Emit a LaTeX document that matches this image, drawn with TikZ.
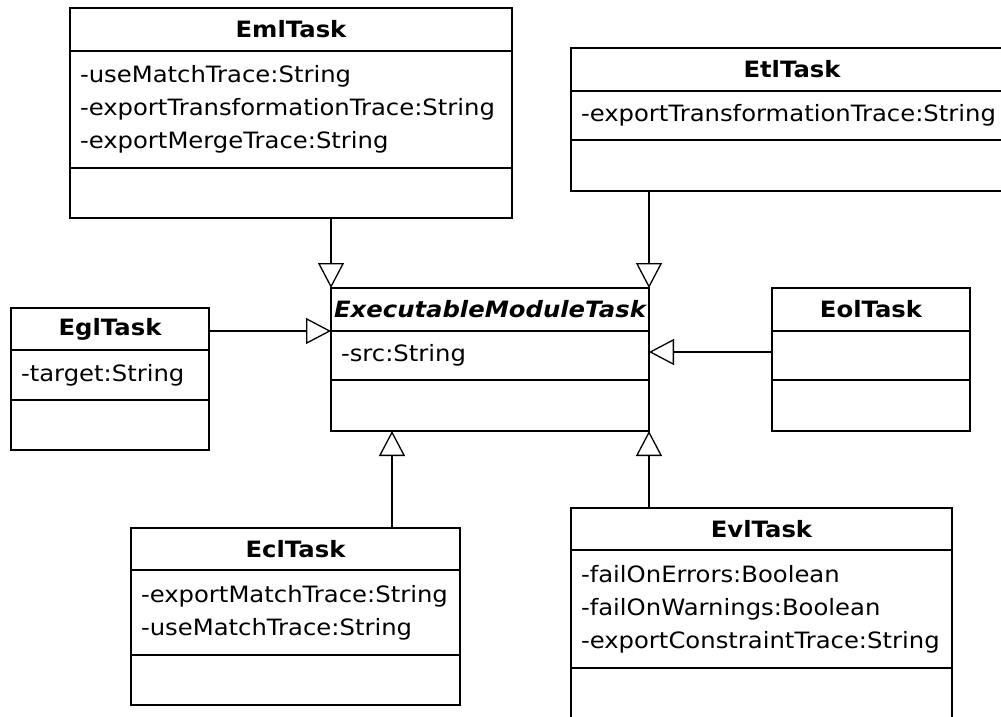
\documentclass[tikz,border=0pt]{standalone}
\usepackage{fontspec}
\setmainfont{DejaVu Sans}[FakeStretch=1.08]
\usetikzlibrary{arrows.meta}
\newcommand{\umlfont}{\fontsize{22.5}{33}\selectfont}

\begin{document}
\begin{tikzpicture}[x=1pt, y=-1pt,
  cls/.style={draw, line width=1.3pt, anchor=north west, inner sep=0pt, outer sep=0pt, font=\umlfont},
  clsname/.style={cls, font=\umlfont\bfseries},
  clsattr/.style={cls, align=left, inner xsep=10pt},
  gen/.style={-{Triangle[open, length=25pt, width=26pt]}, line width=1.3pt}]

\useasboundingbox (0,0) rectangle (1001,717);
\fill[white] (0,0) rectangle (1001,717);
\clip (0,0) rectangle (1001,717);

% EmlTask
\node[clsname, minimum width=442pt, minimum height=43pt] (emlname) at (70,8) {EmlTask};
\node[clsattr, text width=422pt, minimum height=117pt] (emlattr) at (emlname.south west)
  {-useMatchTrace:String\\-exportTransformationTrace:String\\-exportMergeTrace:String};
\node[cls, minimum width=442pt, minimum height=50pt] (emlops) at (emlattr.south west) {};

% EtlTask
\node[clsname, minimum width=442pt, minimum height=43pt] (etlname) at (571,48) {EtlTask};
\node[clsattr, text width=422pt, minimum height=49pt] (etlattr) at (etlname.south west)
  {-exportTransformationTrace:String};
\node[cls, minimum width=442pt, minimum height=51pt] (etlops) at (etlattr.south west) {};

% EglTask
\node[clsname, minimum width=198pt, minimum height=42pt] (eglname) at (11,308) {EglTask};
\node[clsattr, text width=178pt, minimum height=50pt] (eglattr) at (eglname.south west)
  {-target:String};
\node[cls, minimum width=198pt, minimum height=50pt] (eglops) at (eglattr.south west) {};

% ExecutableModuleTask (abstract)
\node[clsname, font=\umlfont\bfseries\itshape, minimum width=318pt, minimum height=43pt] (emtname) at (331,288) {ExecutableModuleTask};
\node[clsattr, text width=298pt, minimum height=49pt] (emtattr) at (emtname.south west)
  {-src:String};
\node[cls, minimum width=318pt, minimum height=51pt] (emtops) at (emtattr.south west) {};

% EolTask
\node[clsname, minimum width=198pt, minimum height=43pt] (eolname) at (772,288) {EolTask};
\node[cls, minimum width=198pt, minimum height=49pt] (eolattr) at (eolname.south west) {};
\node[cls, minimum width=198pt, minimum height=51pt] (eolops) at (eolattr.south west) {};

% EclTask
\node[clsname, minimum width=329pt, minimum height=42pt] (eclname) at (131,528) {EclTask};
\node[clsattr, text width=309pt, minimum height=85pt] (eclattr) at (eclname.south west)
  {-exportMatchTrace:String\\-useMatchTrace:String};
\node[cls, minimum width=329pt, minimum height=50pt] (eclops) at (eclattr.south west) {};

% EvlTask
\node[clsname, minimum width=381pt, minimum height=42pt] (evlname) at (571,508) {EvlTask};
\node[clsattr, text width=361pt, minimum height=118pt] (evlattr) at (evlname.south west)
  {-failOnErrors:Boolean\\-failOnWarnings:Boolean\\-exportConstraintTrace:String};
\node[cls, minimum width=381pt, minimum height=92pt] (evlops) at (evlattr.south west) {};

% generalisations
\coordinate (eclup) at ([xshift=61pt]emtops.south west);
\draw[gen] (emlops.south -| emtname.north west) -- (emtname.north west);
\draw[gen] (etlops.south -| emtname.north east) -- (emtname.north east);
\draw[gen] (eglname.east |- emtname.south west) -- (emtname.south west);
\draw[gen] ([yshift=3.5pt]eolattr.west) -- ([yshift=3.5pt]emtattr.east);
\draw[gen] (eclup |- eclname.north) -- (eclup);
\draw[gen] (emtops.south east |- evlname.north) -- (emtops.south east);

\end{tikzpicture}
\end{document}
